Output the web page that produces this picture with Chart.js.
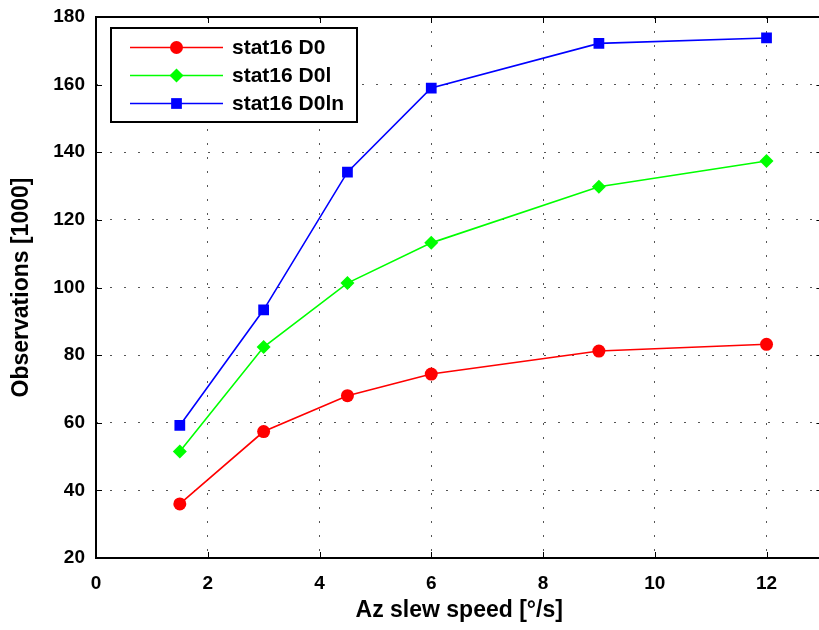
<!DOCTYPE html>
<html>
<head>
<meta charset="utf-8">
<script src="https://cdn.jsdelivr.net/npm/chart.js@4/dist/chart.umd.min.js"></script>
<style>
  html, body { margin: 0; padding: 0; background: #fff; overflow: hidden; }
  canvas { display: block; }
</style>
</head>
<body>
<canvas id="chart" width="830" height="630"></canvas>
<script>
// values
const speeds = [1.5, 3, 4.5, 6, 9, 12];
const obsD0 = [36, 57.4, 68, 74.4, 81.2, 83.2];
const obsD0l = [51.5, 82.4, 101.3, 113.2, 129.8, 137.4];
const obsD0ln = [59.2, 93.4, 134.1, 159, 172.2, 173.8];
const seriesNames = ['stat16 D0', 'stat16 D0l', 'stat16 D0ln'];
const xTicks = [0, 2, 4, 6, 8, 10, 12];
const yTicks = [20, 40, 60, 80, 100, 120, 140, 160, 180];

const FONT = '"Liberation Sans", Arial, Helvetica, sans-serif';

function points(ys) {
  return speeds.map((x, i) => ({ x: x, y: ys[i] }));
}

// inward ticks + box, matlab style
const framePlugin = {
  id: 'frame',
  afterDatasetsDraw(chart) {
    const ctx = chart.ctx;
    const a = chart.chartArea;
    const xs = chart.scales.x;
    const ys = chart.scales.y;
    ctx.save();
    ctx.strokeStyle = '#000';
    ctx.lineWidth = 1;
    xTicks.forEach(v => {
      const px = Math.round(xs.getPixelForValue(v)) + 0.5;
      ctx.beginPath();
      ctx.moveTo(px, a.bottom); ctx.lineTo(px, a.bottom - 6);
      ctx.moveTo(px, a.top); ctx.lineTo(px, a.top + 6);
      ctx.stroke();
    });
    yTicks.forEach(v => {
      const py = Math.round(ys.getPixelForValue(v)) + 0.5;
      ctx.beginPath();
      ctx.moveTo(a.left, py); ctx.lineTo(a.left + 6, py);
      ctx.moveTo(a.right, py); ctx.lineTo(a.right - 6, py);
      ctx.stroke();
    });
    ctx.lineWidth = 2;
    ctx.strokeRect(a.left, a.top, a.right - a.left, a.bottom - a.top);
    ctx.restore();
  }
};

const legendPlugin = {
  id: 'boxLegend',
  afterDraw(chart) {
    const ctx = chart.ctx;
    const box = { left: 111, top: 28, width: 246, height: 94 };
    ctx.save();
    ctx.fillStyle = '#fff';
    ctx.fillRect(box.left, box.top, box.width, box.height);
    ctx.strokeStyle = '#000';
    ctx.lineWidth = 2;
    ctx.strokeRect(box.left, box.top, box.width, box.height);
    chart.data.datasets.forEach((ds, i) => {
      const y = 47.5 + i * 28;
      ctx.strokeStyle = ds.borderColor;
      ctx.lineWidth = ds.borderWidth;
      ctx.beginPath();
      ctx.moveTo(130, y); ctx.lineTo(223, y);
      ctx.stroke();
      ctx.fillStyle = ds.pointBackgroundColor;
      Chart.helpers.drawPoint(ctx, {
        pointStyle: ds.pointStyle,
        radius: ds.pointRadius,
        borderWidth: 0,
        rotation: 0
      }, 176.5, y);
      ctx.fillStyle = '#000';
      ctx.font = 'bold 21px ' + FONT;
      ctx.textBaseline = 'middle';
      ctx.textAlign = 'left';
      ctx.fillText(ds.label, 232, y + 1);
    });
    ctx.restore();
  }
};

const colors = ['#ff0000', '#00ff00', '#0000ff'];
const styles = ['circle', 'rectRot', 'rect'];
const radii = [6.5, 7, 7.6];
const allSeries = [obsD0, obsD0l, obsD0ln];

const datasets = allSeries.map((ys, i) => ({
  label: seriesNames[i],
  data: points(ys),
  borderColor: colors[i],
  backgroundColor: colors[i],
  pointBackgroundColor: colors[i],
  pointBorderColor: colors[i],
  pointBorderWidth: 0,
  pointStyle: styles[i],
  pointRadius: radii[i],
  borderWidth: 1.6,
  tension: 0
}));

const gridStyle = {
  color: '#555',
  lineWidth: 1,
  drawTicks: false
};

new Chart(document.getElementById('chart').getContext('2d'), {
  type: 'line',
  data: { datasets: datasets },
  options: {
    responsive: false,
    animation: false,
    layout: { padding: { top: 17, right: 4, left: 0, bottom: 0 } },
    plugins: {
      legend: { display: false },
      tooltip: { enabled: false }
    },
    scales: {
      x: {
        type: 'linear',
        min: 0,
        max: 13,
        afterFit(scale) {
          scale.height = 72;
          scale.paddingLeft = 0;
          scale.paddingRight = 0;
        },
        afterBuildTicks(scale) { scale.ticks = xTicks.map(v => ({ value: v })); },
        grid: gridStyle,
        border: { display: false, dash: [2, 12] },
        ticks: {
          color: '#000',
          padding: 14,
          font: { family: FONT, size: 19, weight: 'bold' }
        },
        title: {
          display: true,
          text: 'Az slew speed [°/s]',
          color: '#000',
          padding: { top: 0, bottom: 6 },
          font: { family: FONT, size: 23, weight: 'bold' }
        }
      },
      y: {
        min: 20,
        max: 180,
        afterFit(scale) {
          scale.width = 96;
          scale.paddingTop = 0;
          scale.paddingBottom = 0;
        },
        afterBuildTicks(scale) { scale.ticks = yTicks.map(v => ({ value: v })); },
        grid: gridStyle,
        border: { display: false, dash: [2, 12] },
        ticks: {
          color: '#000',
          padding: 11,
          font: { family: FONT, size: 19, weight: 'bold' }
        },
        title: {
          display: true,
          text: 'Observations [1000]',
          color: '#000',
          padding: { top: 8, bottom: 0 },
          font: { family: FONT, size: 23, weight: 'bold' }
        }
      }
    }
  },
  plugins: [framePlugin, legendPlugin]
});
</script>
</body>
</html>
